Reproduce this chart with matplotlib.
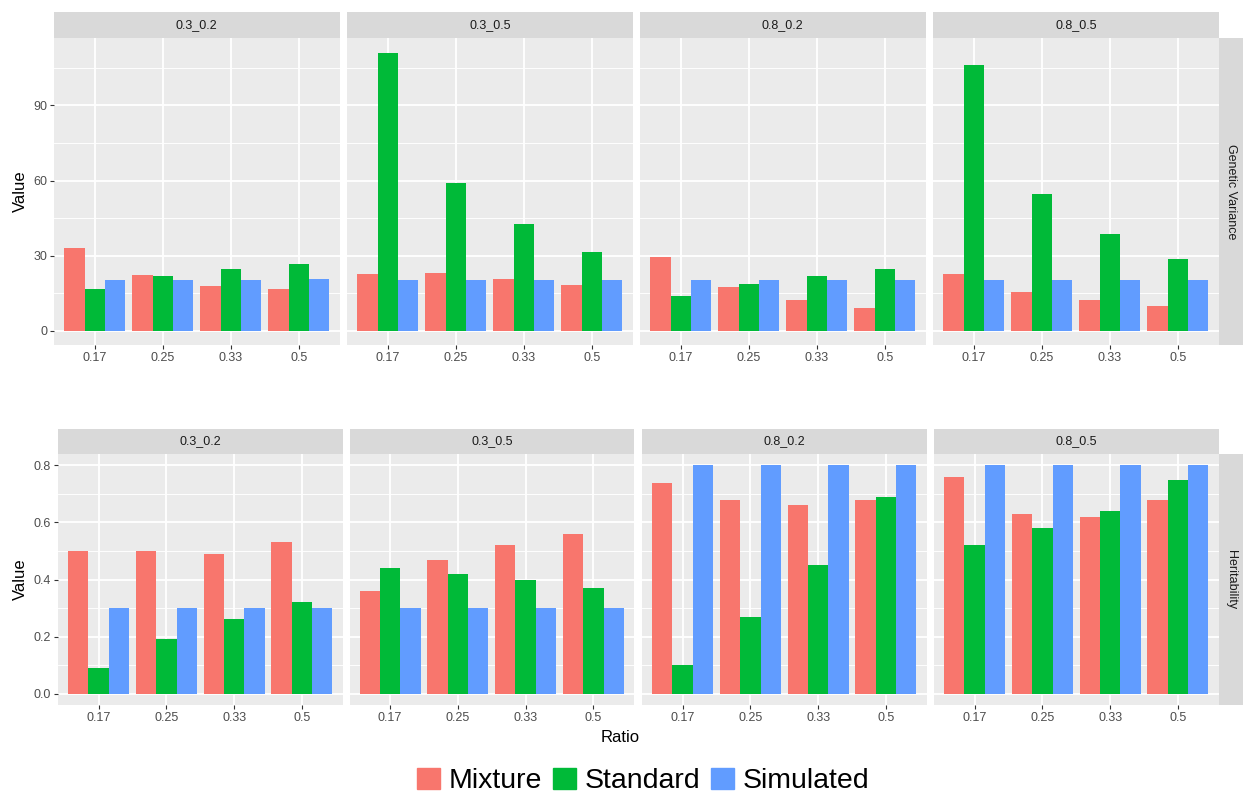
import matplotlib.pyplot as plt
import numpy as np
from matplotlib.patches import Patch

plt.rcParams.update({'font.family': 'Liberation Sans'})

W, H = 1243, 794

ratios = ['0.17', '0.25', '0.33', '0.5']
facets = ['0.3_0.2', '0.3_0.5', '0.8_0.2', '0.8_0.5']
methods = ['Mixture', 'Standard', 'Simulated']
colors = ['#F8766D', '#00BA38', '#619CFF']

# genetic variance, one list per facet, rows = ratio, cols = method
gv_03_02 = [[33.3, 16.9, 20.5], [22.5, 21.8, 20.5], [18.1, 24.7, 20.5], [16.6, 26.7, 20.6]]
gv_03_05 = [[22.9, 111.0, 20.5], [23.1, 58.9, 20.5], [20.9, 42.7, 20.3], [18.2, 31.6, 20.5]]
gv_08_02 = [[29.5, 13.9, 20.5], [17.7, 18.9, 20.5], [12.5, 21.8, 20.5], [9.1, 24.7, 20.5]]
gv_08_05 = [[22.6, 106.0, 20.5], [15.6, 54.8, 20.5], [12.2, 38.6, 20.5], [9.8, 28.8, 20.5]]

# heritability
h2_03_02 = [[0.50, 0.09, 0.30], [0.50, 0.19, 0.30], [0.49, 0.26, 0.30], [0.53, 0.32, 0.30]]
h2_03_05 = [[0.36, 0.44, 0.30], [0.47, 0.42, 0.30], [0.52, 0.40, 0.30], [0.56, 0.37, 0.30]]
h2_08_02 = [[0.74, 0.10, 0.80], [0.68, 0.27, 0.80], [0.66, 0.45, 0.80], [0.68, 0.69, 0.80]]
h2_08_05 = [[0.76, 0.52, 0.80], [0.63, 0.58, 0.80], [0.62, 0.64, 0.80], [0.68, 0.75, 0.80]]

gv = [gv_03_02, gv_03_05, gv_08_02, gv_08_05]
h2 = [h2_03_02, h2_03_05, h2_08_02, h2_08_05]


def box(x0, y0, x1, y1):
    # pixel box (top-left origin) -> figure fraction rect
    return [x0 / W, 1 - y1 / H, (x1 - x0) / W, (y1 - y0) / H]


def strip(rect, text, rot=0):
    a = fig.add_axes(rect)
    a.set_facecolor('#D9D9D9')
    a.set_xticks([]); a.set_yticks([])
    for s in a.spines.values():
        s.set_visible(False)
    a.text(0.5, 0.5, text, ha='center', va='center', rotation=rot,
           fontsize=9, color='#1A1A1A', transform=a.transAxes)


def row(data, lefts, width, top, bottom, ylim, major, minor, ylabels, rowname):
    axes = []
    x = np.arange(1, len(ratios) + 1)
    for i, fac in enumerate(facets):
        x0 = lefts[i]
        strip(box(x0, top - 25.5, x0 + width, top), fac)
        ax = fig.add_axes(box(x0, top, x0 + width, bottom))
        ax.set_facecolor('#EBEBEB')
        ax.set_axisbelow(True)
        vals = np.array(data[i])
        for j in range(len(methods)):
            ax.bar(x + (j - 1) * 0.3, vals[:, j], width=0.3, color=colors[j], linewidth=0)
        ax.set_xlim(0.4, 4.6)
        ax.set_ylim(*ylim)
        ax.set_yticks(major)
        ax.set_yticks(minor, minor=True)
        ax.set_xticks(x)
        ax.set_xticklabels(ratios)
        ax.grid(which='major', color='white', lw=1.3)
        ax.grid(which='minor', axis='y', color='white', lw=0.65)
        ax.tick_params(which='major', length=3, width=0.8, color='#333333',
                       labelsize=9, labelcolor='#4D4D4D', pad=2)
        ax.tick_params(which='minor', length=0)
        if i == 0:
            ax.set_yticklabels(ylabels)
            ax.set_ylabel('Value', fontsize=12, labelpad=4)
        else:
            ax.tick_params(axis='y', which='both', left=False, labelleft=False)
        for s in ax.spines.values():
            s.set_visible(False)
        axes.append(ax)
    strip(box(lefts[-1] + width, top, W, bottom), rowname, rot=-90)
    return axes


fig = plt.figure(figsize=(W / 100, H / 100), dpi=100)

row(gv, [54, 347, 640, 933], 285.5, 37.5, 345, (-5.6, 117.1),
    [0, 30, 60, 90], [15, 45, 75, 105], ['0', '30', '60', '90'], 'Genetic Variance')
row(h2, [58, 349.5, 642, 934], 284.5, 454, 705, (-0.04, 0.84),
    [0, 0.2, 0.4, 0.6, 0.8], [0.1, 0.3, 0.5, 0.7],
    ['0.0', '0.2', '0.4', '0.6', '0.8'], 'Heritability')

fig.text(620 / W, 1 - 738 / H, 'Ratio', ha='center', va='center', fontsize=12)

handles = [Patch(color=c, label=m) for c, m in zip(colors, methods)]
fig.legend(handles=handles, loc='center', bbox_to_anchor=(643 / W, 1 - 781 / H),
           ncol=3, frameon=False, fontsize=20.5, handlelength=0.8, handleheight=0.8,
           handletextpad=0.3, columnspacing=0.4, borderaxespad=0)

fig.savefig('out.png', dpi=100)
